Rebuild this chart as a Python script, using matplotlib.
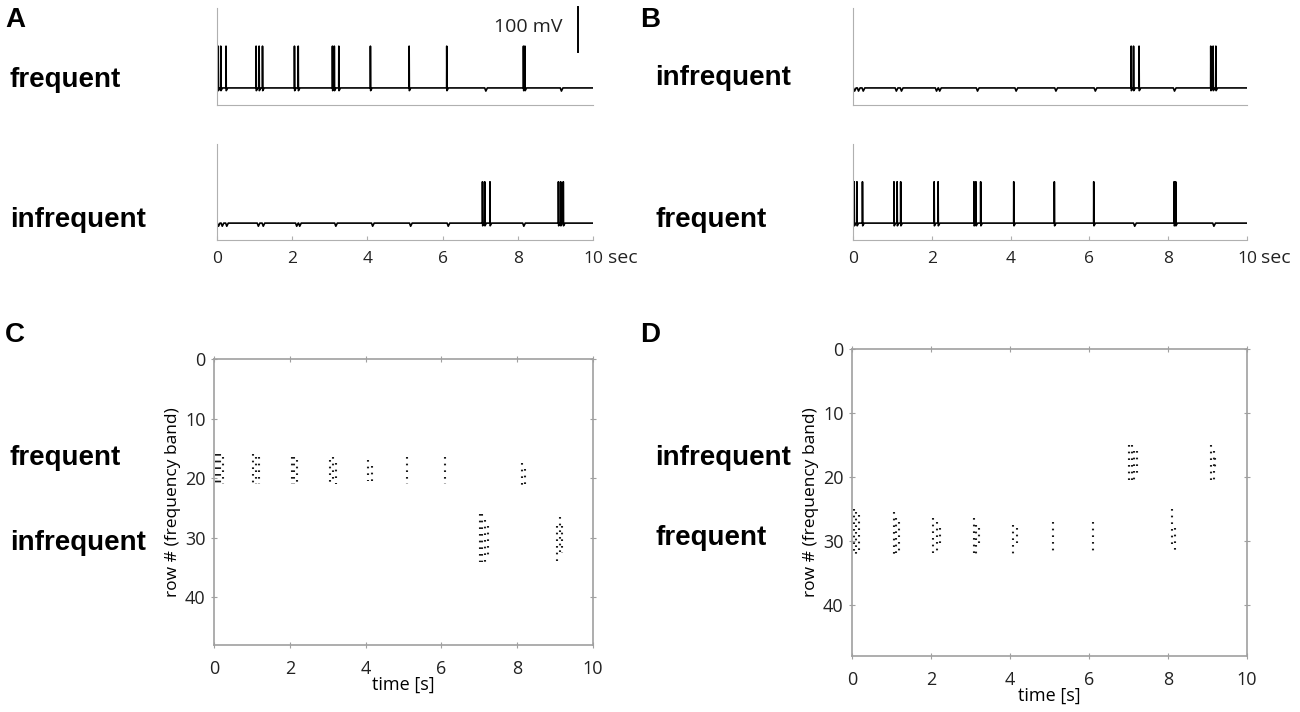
import numpy as np
import matplotlib.pyplot as plt

plt.rcParams['font.family'] = ['Open Sans', 'DejaVu Sans']

# spike / notch times (s) for the membrane traces
freq_spikes = [0.03, 0.10, 0.24, 1.04, 1.12, 1.21, 2.06, 2.16, 3.07, 3.12, 3.24,
               4.08, 5.11, 6.11, 8.15, 8.19]
freq_dips = [7.15, 9.16]
infreq_spikes = [7.06, 7.12, 7.26, 9.08, 9.14, 9.21]
infreq_dips = [0.04, 0.14, 0.26, 1.10, 1.23, 2.12, 2.20, 3.16, 4.14, 5.15, 6.15, 8.16]

spike_peak = 93     # mV above rest
dip_depth = -7

# raster columns: (time, first row, last row)
c_frequent = [(0.04, 16, 21), (0.10, 16, 21), (0.17, 16, 21), (0.24, 16.5, 21),
              (1.04, 16, 21), (1.10, 16.5, 21), (1.18, 16.5, 21),
              (2.06, 16.5, 21), (2.12, 16.5, 21), (2.20, 17, 21),
              (3.06, 17, 21), (3.14, 16.5, 20.5), (3.22, 17.5, 21),
              (4.06, 17, 20.5), (4.16, 18, 21),
              (5.08, 16.5, 21), (6.10, 16.5, 21),
              (8.12, 17.5, 21.5), (8.20, 18.5, 21)]
c_infrequent = [(7.02, 26, 34), (7.08, 26, 34), (7.14, 27, 34), (7.22, 28, 33),
                (9.06, 28, 34), (9.12, 26.5, 33), (9.18, 28, 32.5)]
d_frequent = [(0.04, 25, 32), (0.10, 25.5, 32), (0.17, 26, 32),
              (1.06, 25.5, 32), (1.12, 26.5, 32), (1.18, 27, 32),
              (2.06, 26.5, 32), (2.14, 27, 32), (2.22, 28, 31),
              (3.08, 26.5, 32), (3.14, 27.5, 32), (3.22, 28, 31),
              (4.08, 27.5, 32), (4.18, 28, 31),
              (5.08, 27, 32), (6.10, 27, 32),
              (8.10, 25, 31), (8.18, 28, 31.5)]
d_infrequent = [(7.02, 15, 21), (7.08, 15, 21), (7.14, 16, 21), (7.22, 16, 20),
                (9.10, 15, 21), (9.16, 16, 21), (9.20, 17, 19)]

W, H = 1300, 712
fig = plt.figure(figsize=(W / 100, H / 100), dpi=100)


def box(l, t, r, b):
    return [l / W, 1 - b / H, (r - l) / W, (b - t) / H]


def trace(ax, spikes, dips):
    ev = sorted([(t, 's') for t in spikes] + [(t, 'd') for t in dips])
    xs, ys = [0.0], [0.0]
    for t, k in ev:
        if k == 's':
            xs += [t - 0.003, t, t + 0.006, t + 0.025, t + 0.045]
            ys += [0, spike_peak, -6, -3, 0]
        else:
            xs += [t - 0.03, t, t + 0.04]
            ys += [0, dip_depth, 0]
    xs.append(10.0)
    ys.append(0.0)
    ax.plot(xs, ys, color='black', lw=1.2)
    ax.set_xlim(0, 10)
    ax.set_ylim(-38, 178)
    for s in ['top', 'right']:
        ax.spines[s].set_visible(False)
    for s in ['left', 'bottom']:
        ax.spines[s].set_color('#b0b0b0')
    ax.set_yticks([])


def trace_axes(l, r, tops, bottoms, top_data, bot_data, sec_x):
    a1 = fig.add_axes(box(l, tops[0], r, bottoms[0]))
    trace(a1, *top_data)
    a1.set_xticks([])
    a2 = fig.add_axes(box(l, tops[1], r, bottoms[1]))
    trace(a2, *bot_data)
    a2.set_xticks([0, 2, 4, 6, 8, 10])
    a2.tick_params(axis='x', direction='in', length=3, color='#b0b0b0',
                   labelsize=12.5, labelcolor='#222222', pad=8)
    fig.text(sec_x / W, 1 - 258 / H, 'sec', fontsize=14, color='#222222',
             ha='left', va='center')
    return a1, a2


a_top, a_bot = trace_axes(217, 593, (8, 144), (105, 240),
                          (freq_spikes, freq_dips), (infreq_spikes, infreq_dips), 608)
b_top, b_bot = trace_axes(853, 1247, (8, 144), (105, 240),
                          (infreq_spikes, infreq_dips), (freq_spikes, freq_dips), 1261)

# scale bar
a_top.plot([9.6, 9.6], [80, 180], color='black', lw=1.4, clip_on=False)
a_top.text(9.2, 136, '100 mV', fontsize=14, color='#222222', ha='right', va='center')


def raster(ax, groups):
    for cols in groups:
        for t, r0, r1 in cols:
            ax.vlines(t, r0, r1, color='#1a1a1a', lw=1.5, linestyles=(0, (0.8, 2.4)))
    ax.set_xlim(0, 10)
    ax.set_ylim(48, 0)
    ax.set_xticks([0, 2, 4, 6, 8, 10])
    ax.set_yticks([0, 10, 20, 30, 40])
    for s in ax.spines.values():
        s.set_color('#a0a0a0')
        s.set_linewidth(1.2)
    ax.tick_params(direction='inout', length=5, color='#a0a0a0', labelsize=13,
                   labelcolor='#222222', top=True, right=True)
    ax.tick_params(axis='x', pad=8)
    ax.set_xlabel('time [s]', fontsize=13, labelpad=-1, color='black')
    ax.set_ylabel('row # (frequency band)', fontsize=12.5, labelpad=3, color='black')


c_ax = fig.add_axes(box(214, 359, 593, 645))
raster(c_ax, [c_frequent, c_infrequent])
d_ax = fig.add_axes(box(852, 349, 1247, 656))
raster(d_ax, [d_frequent, d_infrequent])

# panel letters and condition labels
bold = dict(fontweight='bold', family=['Liberation Sans', 'DejaVu Sans'])
for letter, x, y in [('A', 5, 20), ('B', 640, 20), ('C', 5, 335), ('D', 640, 335)]:
    fig.text(x / W, 1 - y / H, letter, fontsize=20, va='center', ha='left', **bold)
for txt, x, y in [('frequent', 10, 80), ('infrequent', 10, 220),
                  ('infrequent', 655, 78), ('frequent', 655, 220),
                  ('frequent', 10, 458), ('infrequent', 10, 543),
                  ('infrequent', 655, 458), ('frequent', 655, 538)]:
    fig.text(x / W, 1 - y / H, txt, fontsize=20, va='center', ha='left', **bold)

fig.savefig('out.png', dpi=100)
